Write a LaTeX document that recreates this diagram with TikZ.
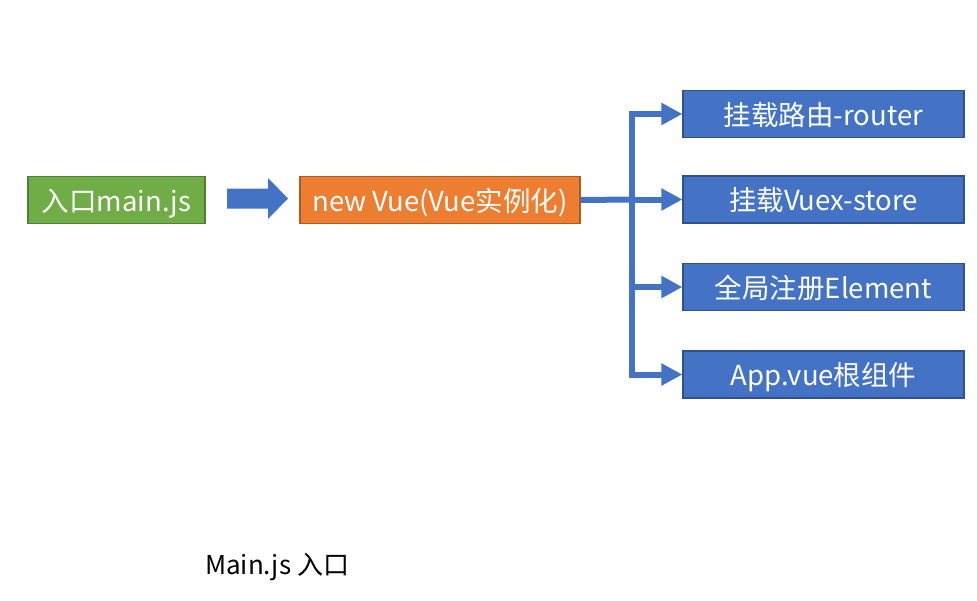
\documentclass[tikz,border=0pt]{standalone}
\usepackage{fontspec}
\setmainfont{Noto Sans CJK SC}
\usetikzlibrary{arrows.meta}
\definecolor{gfill}{HTML}{70AD47}
\definecolor{gline}{HTML}{507E32}
\definecolor{ofill}{HTML}{ED7D31}
\definecolor{oline}{HTML}{AE5A21}
\definecolor{bfill}{HTML}{4472C4}
\definecolor{bline}{HTML}{2F528F}
\tikzset{
  box/.style={draw, line width=1.2pt, text=white, inner sep=0pt,
    minimum height=47pt, text height=24pt, text depth=2pt,
    font=\fontsize{27.5}{32}\selectfont},
  gbox/.style={box, fill=gfill, draw=gline, minimum width=177pt},
  obox/.style={box, fill=ofill, draw=oline, minimum width=280pt},
  bbox/.style={box, fill=bfill, draw=bline, minimum width=281pt},
  conn/.style={draw=bfill, line width=6pt, line join=miter},
  tip/.style={conn, -{Triangle[length=21pt, width=21pt]}},
}
\begin{document}
\begin{tikzpicture}[x=1pt, y=-1pt]
\useasboundingbox (0,0) rectangle (977,600);
\node[gbox] (entry) at (116.5,200) {入口main.js};
\node[obox] (vue) at (440,200) {new Vue(Vue实例化)};
\node[bbox] (router) at (823.5,114) {挂载路由-router};
\node[bbox] (store) at (823.5,199.5) {挂载Vuex-store};
\node[bbox] (elem) at (823.5,287) {全局注册Element};
\node[bbox] (app) at (823.5,374.5) {App.vue根组件};
\fill[bfill] (227,188.5) -- (268,188.5) -- (268,178) -- (288,198.5) -- (268,219) -- (268,208.5) -- (227,208.5) -- cycle;
\coordinate (j) at (632,199.5);
\draw[conn] (vue.east) -- (j);
\draw[tip] (j) |- (router.west);
\draw[tip] (j) -- (store.west);
\draw[tip] (j) |- (elem.west);
\draw[tip] (j) |- (app.west);
\node[font=\fontsize{26}{30}\selectfont, anchor=west, inner sep=0pt] (cap) at (205,567) {Main.js 入口};
\end{tikzpicture}
\end{document}
